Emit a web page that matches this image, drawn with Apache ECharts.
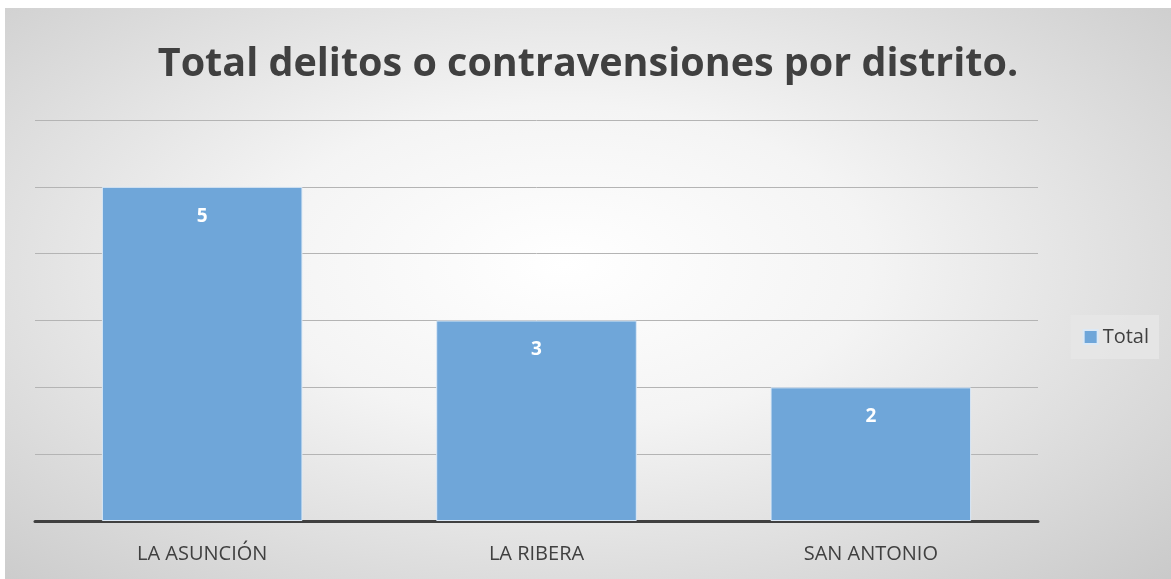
<!DOCTYPE html>
<html>
<head>
<meta charset="utf-8">
<script src="https://cdn.jsdelivr.net/npm/echarts@6/dist/echarts.min.js"></script>
<style>
  html, body { margin: 0; padding: 0; background: #fff; }
  #chart {
    position: absolute; left: 5px; top: 8px; width: 1166px; height: 571px;
    background: radial-gradient(ellipse 75% 80% at 48% 45%, #ffffff 0%, #f4f4f4 35%, #dcdcdc 70%, #c8c8c8 100%);
  }
</style>
</head>
<body>
<div id="chart"></div>
<script>
// datos
var distritos = ['LA ASUNCIÓN', 'LA RIBERA', 'SAN ANTONIO'];
var totales = [5, 3, 2];
var titulo = 'Total delitos o contravensiones por distrito.';

var chart = echarts.init(document.getElementById('chart'));
var option = {
    textStyle: { fontFamily: 'Open Sans' },
    title: {
        text: titulo,
        left: 'center',
        top: 37,
        textStyle: { fontSize: 39.5, fontWeight: 'bold', color: '#404040', fontFamily: 'Open Sans' },
        padding: 0
    },
    legend: {
        data: ['Total'],
        right: 12,
        top: 307,
        orient: 'vertical',
        icon: 'rect',
        backgroundColor: 'rgba(230,230,230,0.85)',
        padding: [12, 10, 12, 12],
        itemWidth: 14,
        itemHeight: 14,
        itemGap: 4,
        textStyle: { fontSize: 20, color: '#404040' }
    },
    grid: { left: 30, right: 133, top: 112, bottom: 58 },
    xAxis: {
        type: 'category',
        data: distritos,
        axisLine: { lineStyle: { color: '#404040', width: 3 } },
        axisTick: { show: false },
        axisLabel: { fontSize: 20, color: '#404040', margin: 23 }
    },
    yAxis: {
        type: 'value',
        min: 0,
        max: 6,
        interval: 1,
        axisLabel: { show: false },
        axisLine: { show: false },
        axisTick: { show: false },
        splitLine: { lineStyle: { color: '#b4b4b4', width: 1 } }
    },
    series: [{
        name: 'Total',
        type: 'bar',
        data: totales,
        barWidth: '60%',
        itemStyle: { color: '#6fa6d9', borderColor: '#dce9f6', borderWidth: 1 },
        label: {
            show: true,
            position: 'insideTop',
            distance: 20,
            color: '#ffffff',
            fontSize: 19,
            fontWeight: 'bold'
        }
    }]
};
chart.setOption(option);
</script>
</body>
</html>
